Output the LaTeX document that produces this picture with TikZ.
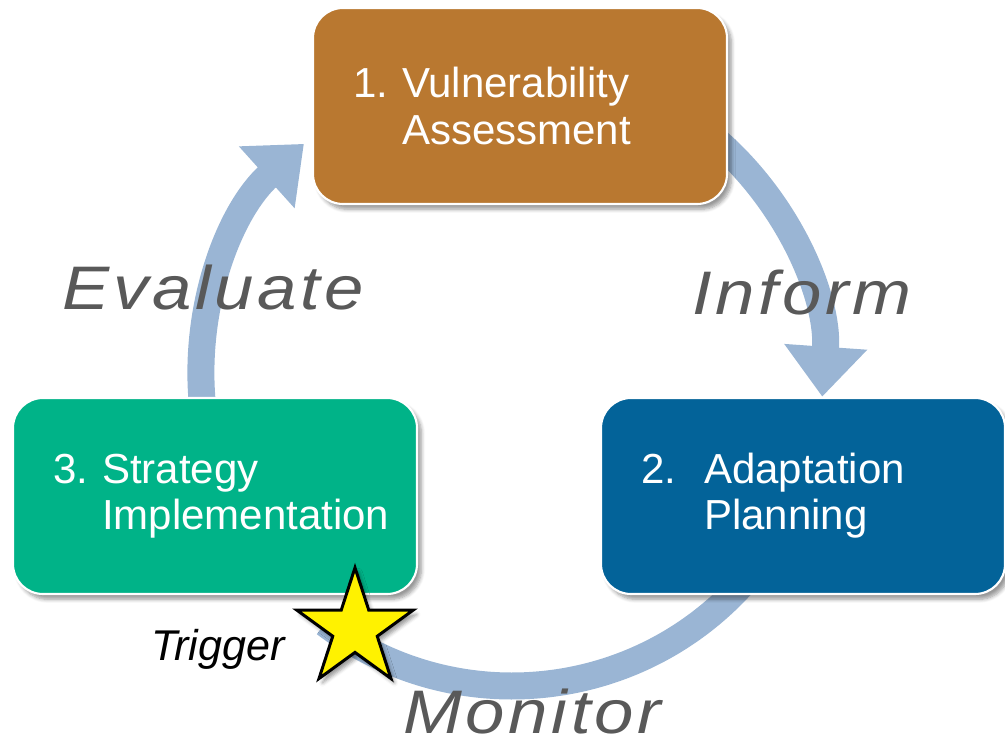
\documentclass[tikz,border=0pt]{standalone}
\usepackage{fontspec}
\setmainfont{Liberation Sans}
\newfontfamily\cyclefont[LetterSpace=6, FakeStretch=1.15]{Liberation Sans}
\usetikzlibrary{positioning, shapes.geometric, shadows.blur, arrows.meta}
\definecolor{stepbrown}{RGB}{185,120,48}
\definecolor{stepblue}{RGB}{3,99,153}
\definecolor{stepgreen}{RGB}{0,179,136}
\definecolor{ringblue}{RGB}{154,181,212}
\definecolor{wordgray}{RGB}{89,89,89}

\begin{document}
\begin{tikzpicture}[
    stepbox/.style={draw=white, line width=1.2pt, rounded corners=0.6cm,
                    minimum height=3.92cm, inner xsep=0.8cm,
                    align=left, text=white,
                    font=\fontsize{23.9}{26.2}\selectfont,
                    blur shadow={shadow xshift=2.5pt, shadow yshift=-3pt,
                                 shadow blur steps=6}},
    ring/.style={ringblue, line width=0.54cm},
    ringtip/.style={ring, -{Triangle[width=1.6cm, length=1cm]}},
    word/.style={font=\cyclefont\itshape\fontsize{35}{40}\selectfont,
                 text=wordgray, anchor=base west, inner sep=0pt},
    trig/.style={font=\itshape\fontsize{24.5}{28}\selectfont,
                 anchor=base west, inner sep=0pt},
]
\useasboundingbox (0,0) rectangle (20.1,14.72);

% centre of the cycle
\coordinate (hub) at (10.24,7.22);

% ring segments (drawn first, the boxes cover their ends)
\draw[ringtip] ([shift={(188:6.22)}]hub) arc[start angle=188, end angle=132, radius=6.22];
\draw[ringtip] ([shift={(50:6.22)}]hub) arc[start angle=50, end angle=-4, radius=6.22];
\draw[ring] ([shift={(-40:6.22)}]hub) arc[start angle=-40, end angle=-127, radius=6.22];

% steps
\node[stepbox, fill=stepbrown, minimum width=8.28cm, text width=6.68cm]
    (assess) at (10.4,12.6) {1.~Vulnerability\\\phantom{1.~}Assessment};
\node[stepbox, fill=stepblue, minimum width=8.08cm, text width=6.48cm]
    (plan) at (16.06,4.8) {2.~~Adaptation\\\phantom{2.~~}Planning};
\node[stepbox, fill=stepgreen, minimum width=8.08cm, text width=6.48cm]
    (implement) at (4.3,4.8) {3.~Strategy\\\phantom{3.~}Implementation};

% trigger
\node[star, star points=5, star point ratio=2.618, minimum size=2.45cm,
      inner sep=0pt, fill=yellow, draw=black, line width=1.7pt,
      blur shadow={shadow xshift=2pt, shadow yshift=-2.5pt}]
    (trigger) at (7.1,2.14) {};
\node[trig] (triglabel) at (3.02,1.52) {Trigger};

% ring labels
\node[word] (evaluate) at (1.24,8.52) {Evaluate};
\node[word] (inform) at (13.84,8.42) {Inform};
\node[word] (monitor) at (8.06,0.06) {Monitor};
\end{tikzpicture}
\end{document}
